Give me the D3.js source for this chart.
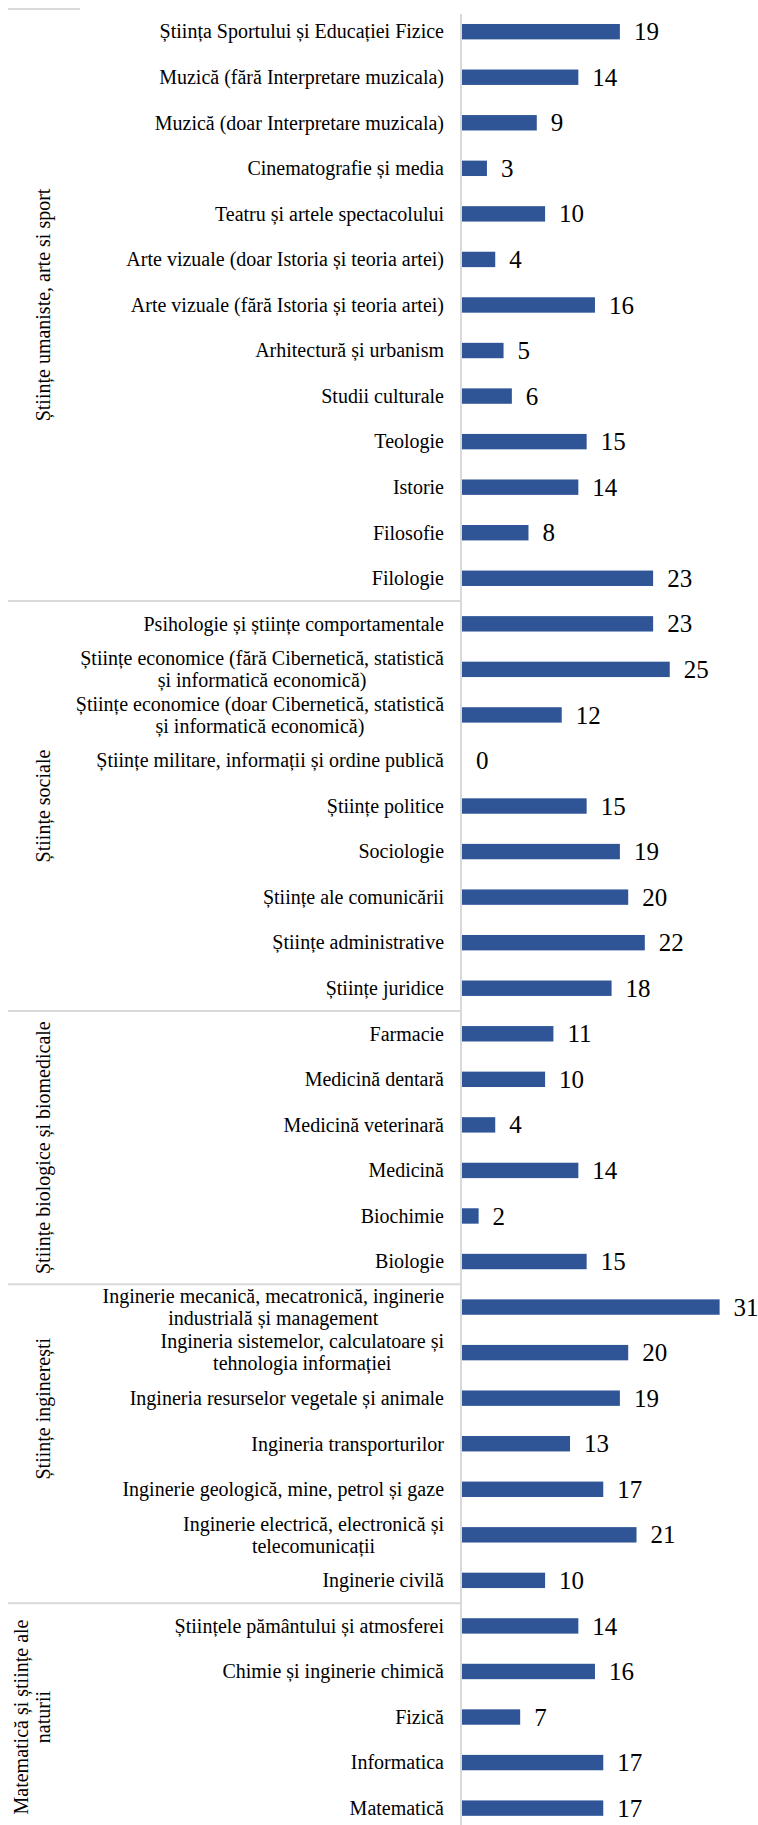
<!DOCTYPE html>
<html>
<head>
<meta charset="utf-8">
<script src="https://cdn.jsdelivr.net/npm/d3@7"></script>
<style>
  html, body { margin: 0; padding: 0; background: #ffffff; }
  svg { display: block; }
</style>
</head>
<body>
<svg id="chart" width="758" height="1825" font-family="'Liberation Serif', 'Times New Roman', Times, 'DejaVu Serif', serif"></svg>
<script>
const categories = [
  "Știința Sportului și Educației Fizice",
  "Muzică (fără Interpretare muzicala)",
  "Muzică (doar Interpretare muzicala)",
  "Cinematografie și media",
  "Teatru și artele spectacolului",
  "Arte vizuale (doar Istoria și teoria artei)",
  "Arte vizuale (fără Istoria și teoria artei)",
  "Arhitectură și urbanism",
  "Studii culturale",
  "Teologie",
  "Istorie",
  "Filosofie",
  "Filologie",
  "Psihologie și științe comportamentale",
  "Științe economice (fără Cibernetică, statistică\nși informatică economică)",
  "Științe economice (doar Cibernetică, statistică\nși informatică economică)",
  "Științe militare, informații și ordine publică",
  "Științe politice",
  "Sociologie",
  "Științe ale comunicării",
  "Științe administrative",
  "Științe juridice",
  "Farmacie",
  "Medicină dentară",
  "Medicină veterinară",
  "Medicină",
  "Biochimie",
  "Biologie",
  "Inginerie mecanică, mecatronică, inginerie\nindustrială și management",
  "Ingineria sistemelor, calculatoare și\ntehnologia informației",
  "Ingineria resurselor vegetale și animale",
  "Ingineria transporturilor",
  "Inginerie geologică, mine, petrol și gaze",
  "Inginerie electrică, electronică și\ntelecomunicații",
  "Inginerie civilă",
  "Științele pământului și atmosferei",
  "Chimie și inginerie chimică",
  "Fizică",
  "Informatica",
  "Matematică"
];
const values = [
  19, 14, 9, 3, 10, 4, 16, 5, 6, 15, 14, 8, 23,
  23, 25, 12, 0, 15, 19, 20, 22, 18,
  11, 10, 4, 14, 2, 15,
  31, 20, 19, 13, 17, 21, 10,
  14, 16, 7, 17, 17
];
const groupNames = [
  "Științe umaniste, arte si sport",
  "Științe sociale",
  "Științe biologice și biomedicale",
  "Științe inginerești",
  "Matematică și științe ale\nnaturii"
];
const groupSizes = [13, 9, 6, 7, 5];
// small manual vertical nudges of the rotated group titles (layout only)
const groupLabelShift = [0, 0, 0, -35, 0];

const svg = d3.select("#chart");
const axisX = 461;
const rowStep = 45.55;
const top0 = 8.9;

const y = d3.scaleBand()
  .domain(categories)
  .range([top0, top0 + rowStep * categories.length])
  .padding(0);
const x = d3.scaleLinear().domain([0, 35]).range([axisX, axisX + 35 * 8.31]);

const barH = 15.4;
const data = categories.map((c, i) => ({ c, v: values[i] }));

let start = 0;
const groups = groupNames.map((g, i) => {
  const cats = categories.slice(start, start + groupSizes[i]);
  start += groupSizes[i];
  return { name: g, cats, shift: groupLabelShift[i] };
});

svg.append("rect").attr("width", 758).attr("height", 1825).attr("fill", "#ffffff");

svg.append("line")
  .attr("x1", 8).attr("x2", 80)
  .attr("y1", y(categories[0])).attr("y2", y(categories[0]))
  .attr("stroke", "#d9d9d9").attr("stroke-width", 2);

svg.selectAll("line.sep")
  .data(groups.slice(1))
  .join("line")
  .attr("class", "sep")
  .attr("x1", 8).attr("x2", axisX)
  .attr("y1", d => y(d.cats[0])).attr("y2", d => y(d.cats[0]))
  .attr("stroke", "#d9d9d9").attr("stroke-width", 2);

svg.append("line")
  .attr("x1", axisX).attr("x2", axisX)
  .attr("y1", 14).attr("y2", 1825)
  .attr("stroke", "#d9d9d9").attr("stroke-width", 2);

svg.selectAll("rect.bar")
  .data(data)
  .join("rect")
  .attr("class", "bar")
  .attr("x", x(0) + 1)
  .attr("y", d => y(d.c) + y.bandwidth() / 2 - barH / 2)
  .attr("width", d => Math.max(0, x(d.v) - x(0)))
  .attr("height", barH)
  .attr("fill", "#2f5597");

svg.selectAll("text.val")
  .data(data)
  .join("text")
  .attr("class", "val")
  .attr("x", d => x(d.v) + 15)
  .attr("y", d => y(d.c) + y.bandwidth() / 2 + 8.6)
  .attr("font-size", 25)
  .attr("fill", "#000")
  .text(d => d.v);

const fs = 20, lh = 22, labelRight = 444;
data.forEach(d => {
  const lines = d.c.split("\n");
  const cy = y(d.c) + y.bandwidth() / 2;
  const g = svg.append("g");
  const texts = lines.map((ln, i) =>
    g.append("text")
      .attr("text-anchor", "middle")
      .attr("font-size", fs)
      .attr("fill", "#000")
      .attr("x", 0)
      .attr("y", cy + 0.34 * fs + (i - (lines.length - 1) / 2) * lh)
      .text(ln)
  );
  const maxW = d3.max(texts, t => t.node().getComputedTextLength());
  g.attr("transform", `translate(${labelRight - maxW / 2},0)`);
});

groups.forEach(gr => {
  const y0 = y(gr.cats[0]);
  const y1 = y(gr.cats[gr.cats.length - 1]) + y.bandwidth();
  const cy = (y0 + y1) / 2 + gr.shift;
  const lines = gr.name.split("\n");
  const baseX = 50;
  const g = svg.append("g").attr("transform", `translate(0,${cy}) rotate(-90)`);
  lines.forEach((ln, i) => {
    g.append("text")
      .attr("text-anchor", "middle")
      .attr("font-size", 20)
      .attr("fill", "#000")
      .attr("x", 0)
      .attr("y", baseX - (lines.length - 1 - i) * lh)
      .text(ln);
  });
});
</script>
</body>
</html>
